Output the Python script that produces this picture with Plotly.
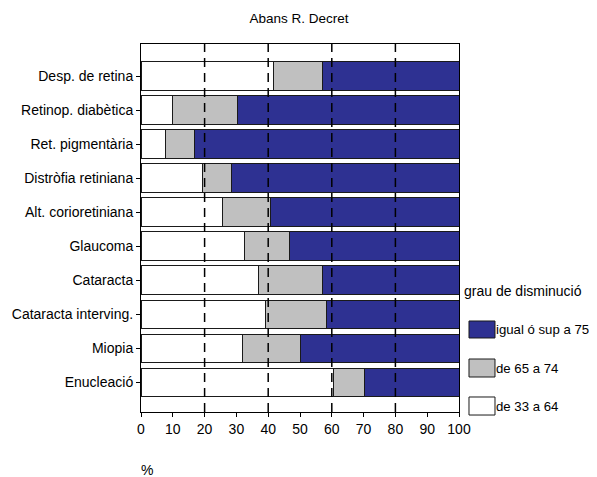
import plotly.graph_objects as go

categories = ["Desp. de retina", "Retinop. diabètica", "Ret. pigmentària",
              "Distròfia retiniana", "Alt. corioretiniana", "Glaucoma",
              "Cataracta", "Cataracta interving.", "Miopia", "Enucleació"]
low = [41.6, 9.8, 7.8, 19.3, 25.7, 32.7, 37.1, 39.2, 31.9, 60.5]       # de 33 a 64
mid = [15.4, 20.5, 8.9, 9.2, 15.1, 13.9, 19.9, 19.0, 18.3, 9.9]        # de 65 a 74
high = [43.0, 69.7, 83.3, 71.5, 59.2, 53.4, 43.0, 41.8, 49.8, 29.6]    # igual ó sup a 75
series_names = ["de 33 a 64", "de 65 a 74", "igual ó sup a 75"]
x_ticks = [0, 10, 20, 30, 40, 50, 60, 70, 80, 90, 100]
grid_vals = [20, 40, 60, 80]

colors = ["#FFFFFF", "#C0C0C0", "#2E3192"]
FONT = "Liberation Sans, Arial, sans-serif"
FS = 14

fig = go.Figure()
for name, vals, col in zip(series_names, [low, mid, high], colors):
    fig.add_trace(go.Bar(
        y=categories, x=vals, name=name, orientation="h",
        marker=dict(color=col, line=dict(color="#1a1a1a", width=1)),
        showlegend=False, hoverinfo="x+y+name"))

# dashed vertical guide lines above bars
for v in grid_vals:
    fig.add_shape(type="line", xref="x", yref="paper", x0=v, x1=v, y0=0, y1=1,
                  line=dict(color="black", width=1.5, dash="9px,6px"), layer="above")

# manual legend
legend_boxes = [(0.2473, 0.2011), (0.1440, 0.0951), (0.0408, -0.0082)]
for (ytop, ybot), name, col in zip(legend_boxes, series_names[::-1], colors[::-1]):
    fig.add_shape(type="rect", xref="paper", yref="paper",
                  x0=1.0314, x1=1.1132, y0=ybot, y1=ytop,
                  fillcolor=col, line=dict(color="#1a1a1a", width=1))
    fig.add_annotation(xref="paper", yref="paper", x=1.1195, y=(ytop + ybot) / 2,
                       text=name, showarrow=False, xanchor="left", yanchor="middle",
                       xshift=-3,
                       font=dict(size=13.2, color="black", family=FONT))
fig.add_annotation(xref="paper", yref="paper", x=1.0157, y=0.3288,
                   text="grau de disminució", showarrow=False, xanchor="left",
                   yanchor="middle", xshift=-2,
                   font=dict(size=FS, color="black", family=FONT))
fig.add_annotation(xref="paper", yref="paper", x=0.0189, y=-0.1576, text="%",
                   showarrow=False, xanchor="center", yanchor="middle",
                   font=dict(size=FS, color="black", family=FONT))

# page has an 8px body margin: figure is shrunk by 8px so the plot lands on the same pixels
fig.update_layout(
    barmode="stack", bargap=0.16,
    width=589, height=469,
    margin=dict(l=133, r=138, t=36, b=65, autoexpand=False),
    paper_bgcolor="white", plot_bgcolor="white",
    font=dict(family=FONT, size=FS, color="black"),
    title=dict(text="Abans R. Decret", x=0.494, xanchor="center", y=0.979,
               yanchor="middle", font=dict(size=13.5, family=FONT, color="black")),
    xaxis=dict(range=[0, 100], tickvals=x_ticks, ticks="outside", ticklen=4,
               tickcolor="black", showgrid=False, zeroline=False,
               showline=True, linecolor="black", linewidth=1, mirror=True,
               tickfont=dict(size=FS)),
    yaxis=dict(categoryorder="array", categoryarray=categories,
               range=[9.87, -0.94], ticks="outside", ticklen=4, tickcolor="black",
               showgrid=False, zeroline=False, showline=True, linecolor="black",
               linewidth=1, mirror=True, tickfont=dict(size=FS)),
)

fig.write_html("out.html")
